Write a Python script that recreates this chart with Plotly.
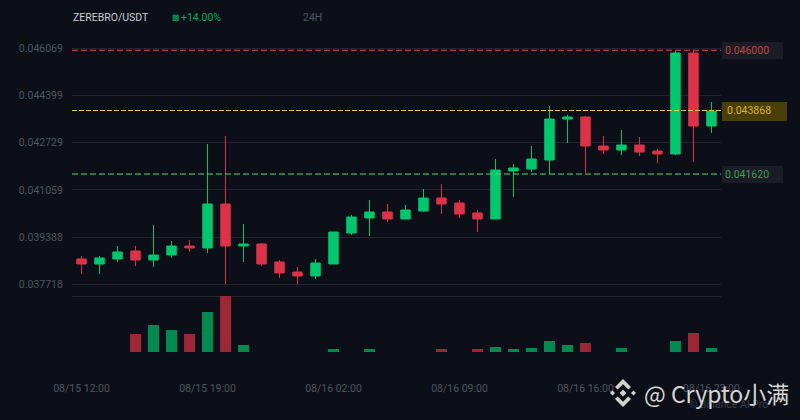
import plotly.graph_objects as go

# Hourly candles.
times = ["08/15 12:00", "08/15 13:00", "08/15 14:00", "08/15 15:00", "08/15 16:00", "08/15 17:00",
         "08/15 18:00", "08/15 19:00", "08/15 20:00", "08/15 21:00", "08/15 22:00", "08/15 23:00",
         "08/16 00:00", "08/16 01:00", "08/16 02:00", "08/16 03:00", "08/16 04:00", "08/16 05:00",
         "08/16 06:00", "08/16 07:00", "08/16 08:00", "08/16 09:00", "08/16 10:00", "08/16 11:00",
         "08/16 12:00", "08/16 13:00", "08/16 14:00", "08/16 15:00", "08/16 16:00", "08/16 17:00",
         "08/16 18:00", "08/16 19:00", "08/16 20:00", "08/16 21:00", "08/16 22:00", "08/16 23:00"]
opens = [0.038613, 0.038436, 0.038613, 0.038896, 0.038578, 0.038755, 0.039073, 0.039003, 0.040559, 0.039073,
         0.039144, 0.038507, 0.038153, 0.038012, 0.038436, 0.039533, 0.040064, 0.040276, 0.040029, 0.040312,
         0.040772, 0.040595, 0.040241, 0.040029, 0.041727, 0.041798, 0.042116, 0.043567, 0.043638, 0.042612,
         0.042470, 0.042647, 0.042435, 0.042329, 0.045903, 0.043319]
closes = [0.038436, 0.038649, 0.038861, 0.038578, 0.038755, 0.039073, 0.039003, 0.040559, 0.039073, 0.039144,
          0.038436, 0.038118, 0.038012, 0.038472, 0.039569, 0.040099, 0.040276, 0.040029, 0.040347, 0.040772,
          0.040559, 0.040206, 0.040029, 0.041763, 0.041833, 0.042152, 0.043567, 0.043638, 0.042612, 0.042470,
          0.042647, 0.042399, 0.042329, 0.045903, 0.043319, 0.043850]
highs = [0.038719, 0.038719, 0.039073, 0.039073, 0.039816, 0.039250, 0.039286, 0.042683, 0.042966, 0.039852,
         0.039179, 0.038578, 0.038330, 0.038613, 0.039569, 0.040170, 0.040701, 0.040559, 0.040524, 0.041090,
         0.041267, 0.040701, 0.040347, 0.042152, 0.041975, 0.042612, 0.044027, 0.043709, 0.043673, 0.042966,
         0.043178, 0.042930, 0.042506, 0.045973, 0.045973, 0.044169]
lows = [0.038083, 0.038083, 0.038507, 0.038366, 0.038330, 0.038649, 0.038861, 0.038826, 0.037729, 0.038507,
        0.038366, 0.037941, 0.037729, 0.037906, 0.038436, 0.039463, 0.039427, 0.039923, 0.040029, 0.040276,
        0.040206, 0.040064, 0.039569, 0.040029, 0.040807, 0.041692, 0.041621, 0.042718, 0.041656, 0.042329,
        0.042293, 0.042258, 0.042010, 0.042293, 0.042046, 0.043072]
volumes = [0, 0, 0, 18, 27, 22, 18, 40, 56, 7, 0, 0, 0, 0, 3, 0, 3, 0,
           0, 0, 3, 0, 3, 5, 3, 4, 11, 7, 9, 0, 4, 0, 0, 11, 19, 4]

price_ticks = [0.046069, 0.044399, 0.042729, 0.041059, 0.039388, 0.037718]
price_tick_labels = ["0.046069", "0.044399", "0.042729", "0.041059", "0.039388", "0.037718"]
time_ticks = ["08/15 12:00", "08/15 19:00", "08/16 02:00", "08/16 09:00", "08/16 16:00", "08/16 23:00"]
levels = [0.046000, 0.043868, 0.041620]
level_labels = ["0.046000", "0.043868", "0.041620"]

BG = "#0c0f17"
GRID = "#20232b"
MUTED = "#4f5561"
UP = "#02c76f"
DOWN = "#dc3349"
FONT = "Roboto"


# pixel helpers for things that sit on the page, not on the axes
def px(x):
    return x / 800


def py(y):
    return 1 - y / 420


fig = go.Figure()

fig.add_trace(go.Candlestick(
    x=times, open=opens, high=highs, low=lows, close=closes, yaxis="y", xaxis="x",
    increasing=dict(line=dict(color=UP, width=1), fillcolor=UP),
    decreasing=dict(line=dict(color=DOWN, width=1), fillcolor=DOWN),
    whiskerwidth=0, showlegend=False))

vol_colors = ["#028a50" if c >= o else "#9d2737" for o, c in zip(opens, closes)]
fig.add_trace(go.Bar(x=times, y=volumes, marker_color=vol_colors, marker_line_width=0,
                     width=0.61, yaxis="y2", xaxis="x", showlegend=False))

# Divider above the volume panel.
fig.add_shape(type="line", xref="paper", yref="paper", x0=px(72), x1=px(721), y0=py(296.5), y1=py(296.5),
              line=dict(color=GRID, width=1), layer="below")

# Dashed levels and their price tags.
level_colors = ["#ec4a4a", "#e8c84f", "#50dc78"]
level_dash = ["6px,3px", "5px,2px", "6px,3px"]
tag_fill = ["#1a1c26", "#4a3f0b", "#1a1c26"]
tag_right = [783, 787, 783]
tag_top = [42, 102, 166]
tag_bottom = [59, 121, 183]
tag_text = ["#c8413f", "#d9b52e", "#3f9d58"]
for i, level in enumerate(levels):
    fig.add_shape(type="line", xref="x domain", yref="y", x0=0, x1=1, y0=level, y1=level,
                  line=dict(color=level_colors[i], width=1, dash=level_dash[i]), layer="above")
    fig.add_shape(type="rect", xref="paper", yref="paper", x0=px(722), x1=px(tag_right[i]),
                  y0=py(tag_bottom[i]), y1=py(tag_top[i]), fillcolor=tag_fill[i], line_width=0)
    fig.add_annotation(xref="paper", yref="paper", x=px(723 if i != 1 else 725),
                       y=py((tag_top[i] + tag_bottom[i]) / 2 - 0.5),
                       text=level_labels[i], showarrow=False, xanchor="left", yanchor="middle",
                       font=dict(family=FONT, size=10.5, color=tag_text[i]))

# Header text.
header = [("ZEREBRO/USDT", 71, "#c9ccd2", 10.5), ("▩", 170, "#02a861", 8), ("+14.00%", 179, "#02a861", 10.5),
          ("24H", 301, MUTED, 10.5)]
for text, x, color, size in header:
    fig.add_annotation(xref="paper", yref="paper", x=px(x), y=py(18), text=text, showarrow=False,
                       xanchor="left", yanchor="middle", font=dict(family=FONT, size=size, color=color))

# Binance AI Pro mark under the watermark.
fig.add_annotation(xref="paper", yref="paper", x=px(770), y=py(404), text="© Binance AI Pro", showarrow=False,
                   xanchor="right", yanchor="middle", font=dict(family=FONT, size=10.5, color="#3a3f49"))


# Watermark: diamond logo plus handle.
def outline(cx, cy, points):
    parts = [f"{'M' if n == 0 else 'L'} {px(cx + a)} {py(cy + b)}" for n, (a, b) in enumerate(points)]
    return " ".join(parts) + " Z"


chevron_top = [(-8, -6), (0, -14), (8, -6), (5.3, -3.6), (0, -8.8), (-5.3, -3.6)]
chevron_bottom = [(-8, 6), (0, 14), (8, 6), (5.3, 3.6), (0, 8.8), (-5.3, 3.6)]
center = [(-3.4, 0), (0, -3.4), (3.4, 0), (0, 3.4)]
side_left = [(-13, 0), (-10.5, -2.6), (-8, 0), (-10.5, 2.6)]
side_right = [(13, 0), (10.5, -2.6), (8, 0), (10.5, 2.6)]
for points in [chevron_top, chevron_bottom, center, side_left, side_right]:
    fig.add_shape(type="path", xref="paper", yref="paper", path=outline(623, 393, points),
                  fillcolor="#d3d3d3", line_width=0, layer="above")
fig.add_annotation(xref="paper", yref="paper", x=px(642), y=py(393), text="@ Crypto小满", showarrow=False,
                   xanchor="left", yanchor="middle",
                   font=dict(family="Noto Sans CJK SC", size=23, color="#d6d6d6"))

fig.update_layout(
    width=800, height=420, autosize=False,
    margin=dict(l=0, r=0, t=0, b=0),
    paper_bgcolor=BG, plot_bgcolor=BG,
    boxgap=0.25, bargap=0.39,
    font=dict(family=FONT, color=MUTED, size=11),
    showlegend=False,
    xaxis=dict(domain=[px(72), px(721)], type="category", categoryorder="array", categoryarray=times,
               range=[-0.53, 35.53], tickmode="array", tickvals=time_ticks, ticktext=time_ticks,
               rangeslider=dict(visible=False), showgrid=False, zeroline=False, showline=False,
               automargin=False, anchor="y2", ticks="outside", ticklen=26, tickcolor="rgba(0,0,0,0)",
               tickfont=dict(family=FONT, size=10.5, color=MUTED)),
    yaxis=dict(domain=[py(290), py(40)], range=[0.037516, 0.046363], tickmode="array",
               tickvals=price_ticks, ticktext=price_tick_labels, gridcolor=GRID, gridwidth=1, automargin=False,
               zeroline=False, showline=False, ticks="outside", ticklen=6, tickcolor="rgba(0,0,0,0)",
               tickfont=dict(family=FONT, size=10.5, color=MUTED)),
    yaxis2=dict(domain=[py(352), py(296)], range=[0, 56], showticklabels=False, showgrid=False,
                automargin=False, zeroline=False, showline=False),
)

fig.write_html("out.html", config=dict(displayModeBar=False),
               post_script="document.body.style.margin='0';document.body.style.background='#0c0f17';")
